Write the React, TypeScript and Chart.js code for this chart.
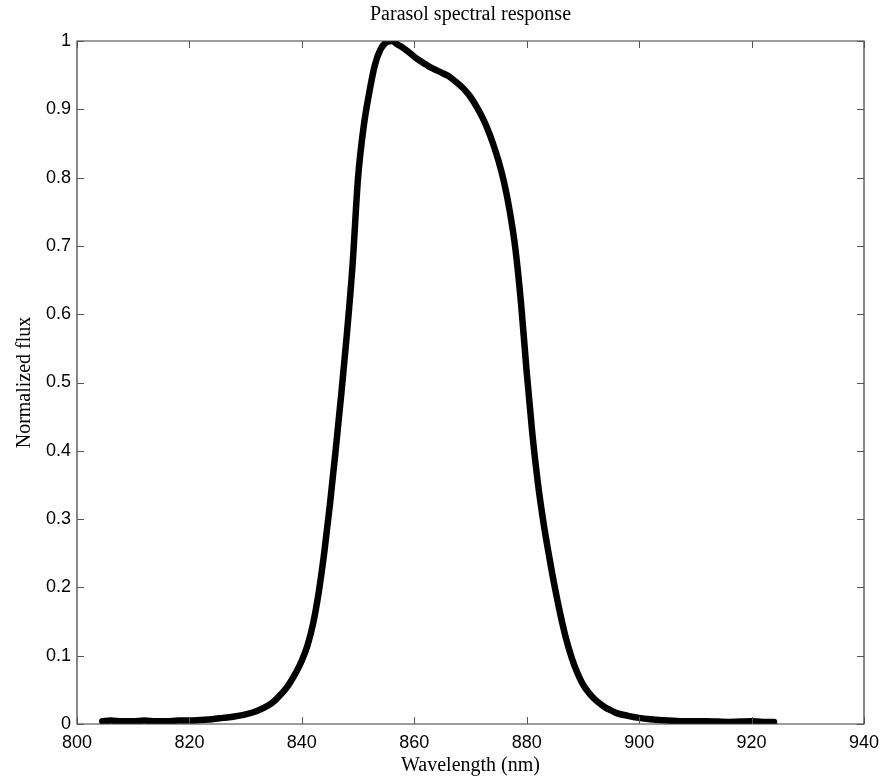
import React, { useEffect, useRef } from "react";
import { Chart, registerables } from "chart.js";

Chart.register(...registerables);

// Wavelength samples (nm) and the normalized spectral response at each one
const wavelengths: number[] = [
  804.5, 806, 808, 810, 812, 814, 816, 818, 820, 822, 824, 826, 828, 830, 832,
  834, 835, 836, 837, 838, 839, 840, 841, 842, 843, 844, 845, 846, 847, 848,
  849, 850, 851, 852, 853, 854, 855, 856, 857, 858, 859, 860, 861, 862, 863,
  864, 865, 866, 867, 868, 869, 870, 871, 872, 873, 874, 875, 876, 877, 878,
  879, 880, 881, 882, 883, 884, 885, 886, 887, 888, 889, 890, 891, 892, 893,
  894, 895, 896, 898, 900, 902, 905, 908, 912, 916, 920, 922, 924,
];

const flux: number[] = [
  0.004, 0.005, 0.004, 0.004, 0.005, 0.004, 0.004, 0.005, 0.005, 0.006, 0.007,
  0.009, 0.011, 0.014, 0.019, 0.027, 0.033, 0.041, 0.05, 0.062, 0.076, 0.093,
  0.115, 0.147, 0.193, 0.252, 0.322, 0.4, 0.482, 0.57, 0.67, 0.8, 0.875, 0.925,
  0.965, 0.988, 0.998, 1.0, 0.995, 0.99, 0.984, 0.977, 0.971, 0.966, 0.961,
  0.957, 0.953, 0.949, 0.943, 0.936, 0.928, 0.918, 0.905, 0.89, 0.872, 0.85,
  0.824, 0.792, 0.75, 0.695, 0.615, 0.515, 0.425, 0.352, 0.294, 0.245, 0.2,
  0.16, 0.125, 0.097, 0.075, 0.058, 0.046, 0.037, 0.03, 0.024, 0.02, 0.016,
  0.012, 0.009, 0.007, 0.005, 0.004, 0.004, 0.003, 0.004, 0.003, 0.003,
];

const xTicks: number[] = [800, 820, 840, 860, 880, 900, 920, 940];
const yTicks: number[] = [0, 0.1, 0.2, 0.3, 0.4, 0.5, 0.6, 0.7, 0.8, 0.9, 1];

const TITLE = "Parasol spectral response";
const X_TITLE = "Wavelength (nm)";
const Y_TITLE = "Normalized flux";

const SERIF = "'Liberation Serif', 'DejaVu Serif', serif";
const SANS = "'Liberation Sans', Arial, sans-serif";

// Box around the plot with short inward tick marks on all four sides
const framePlugin = {
  id: "frame",
  afterDatasetsDraw(chart: any) {
    const { ctx, chartArea } = chart;
    const { left, right, top, bottom } = chartArea;
    const xs = chart.scales.x;
    const ys = chart.scales.y;
    const len = 7;
    ctx.save();
    ctx.strokeStyle = "#3a3a3a";
    ctx.lineWidth = 1.2;
    ctx.beginPath();
    ctx.rect(left, top, right - left, bottom - top);
    ctx.stroke();
    ctx.strokeStyle = "#555";
    ctx.lineWidth = 1;
    ctx.beginPath();
    for (const v of xTicks) {
      const px = Math.round(xs.getPixelForValue(v)) + 0.5;
      ctx.moveTo(px, bottom);
      ctx.lineTo(px, bottom - len);
      ctx.moveTo(px, top);
      ctx.lineTo(px, top + len);
    }
    for (const v of yTicks) {
      const py = Math.round(ys.getPixelForValue(v)) + 0.5;
      ctx.moveTo(left, py);
      ctx.lineTo(left + len, py);
      ctx.moveTo(right, py);
      ctx.lineTo(right - len, py);
    }
    ctx.stroke();
    ctx.restore();
  },
};

export default function App() {
  const canvasRef = useRef<HTMLCanvasElement | null>(null);

  useEffect(() => {
    const canvas = canvasRef.current;
    if (!canvas) return;
    const points = wavelengths.map((w, i) => ({ x: w, y: flux[i] }));
    const chart = new Chart(canvas, {
      type: "line",
      data: {
        datasets: [
          {
            data: points,
            borderColor: "#000",
            borderWidth: 6.5,
            pointRadius: 0,
            cubicInterpolationMode: "monotone",
            fill: false,
            clip: 0,
            borderCapStyle: "round",
            borderJoinStyle: "round",
          },
        ],
      },
      options: {
        responsive: false,
        animation: false,
        events: [],
        layout: { padding: { top: 0, right: 19, bottom: 0, left: 0 } },
        plugins: {
          legend: { display: false },
          tooltip: { enabled: false },
          title: {
            display: true,
            text: TITLE,
            fullSize: false,
            color: "#000",
            font: { family: SERIF, size: 20, weight: "normal" },
            padding: { top: 3, bottom: 14 },
          },
        },
        scales: {
          x: {
            type: "linear",
            min: 800,
            max: 940,
            afterBuildTicks: (s: any) => {
              s.ticks = xTicks.map((v) => ({ value: v }));
            },
            afterFit: (s: any) => {
              s.height = 54;
              s.paddingLeft = 0;
              s.paddingRight = 0;
            },
            grid: { display: false, drawTicks: false },
            border: { display: false },
            ticks: {
              color: "#000",
              font: { family: SANS, size: 18 },
              padding: 8,
              maxRotation: 0,
            },
            title: {
              display: true,
              text: X_TITLE,
              color: "#000",
              font: { family: SERIF, size: 20 },
              padding: { top: 0, bottom: 0 },
            },
          },
          y: {
            type: "linear",
            min: 0,
            max: 1,
            afterBuildTicks: (s: any) => {
              s.ticks = yTicks.map((v) => ({ value: v }));
            },
            afterFit: (s: any) => {
              s.width = 77;
              s.paddingTop = 0;
              s.paddingBottom = 0;
            },
            grid: { display: false, drawTicks: false },
            border: { display: false },
            ticks: {
              color: "#000",
              font: { family: SANS, size: 18 },
              padding: 6,
              callback: (v: any) => String(Math.round(Number(v) * 10) / 10),
            },
            title: {
              display: true,
              text: Y_TITLE,
              color: "#000",
              font: { family: SERIF, size: 20 },
              padding: { top: 13, bottom: 0 },
            },
          },
        },
      },
      plugins: [framePlugin],
    });
    return () => chart.destroy();
  }, []);

  return (
    <div style={{ position: "fixed", left: 0, top: 0, width: 883, height: 778, background: "#fff" }}>
      <canvas ref={canvasRef} width={883} height={778} />
    </div>
  );
}
